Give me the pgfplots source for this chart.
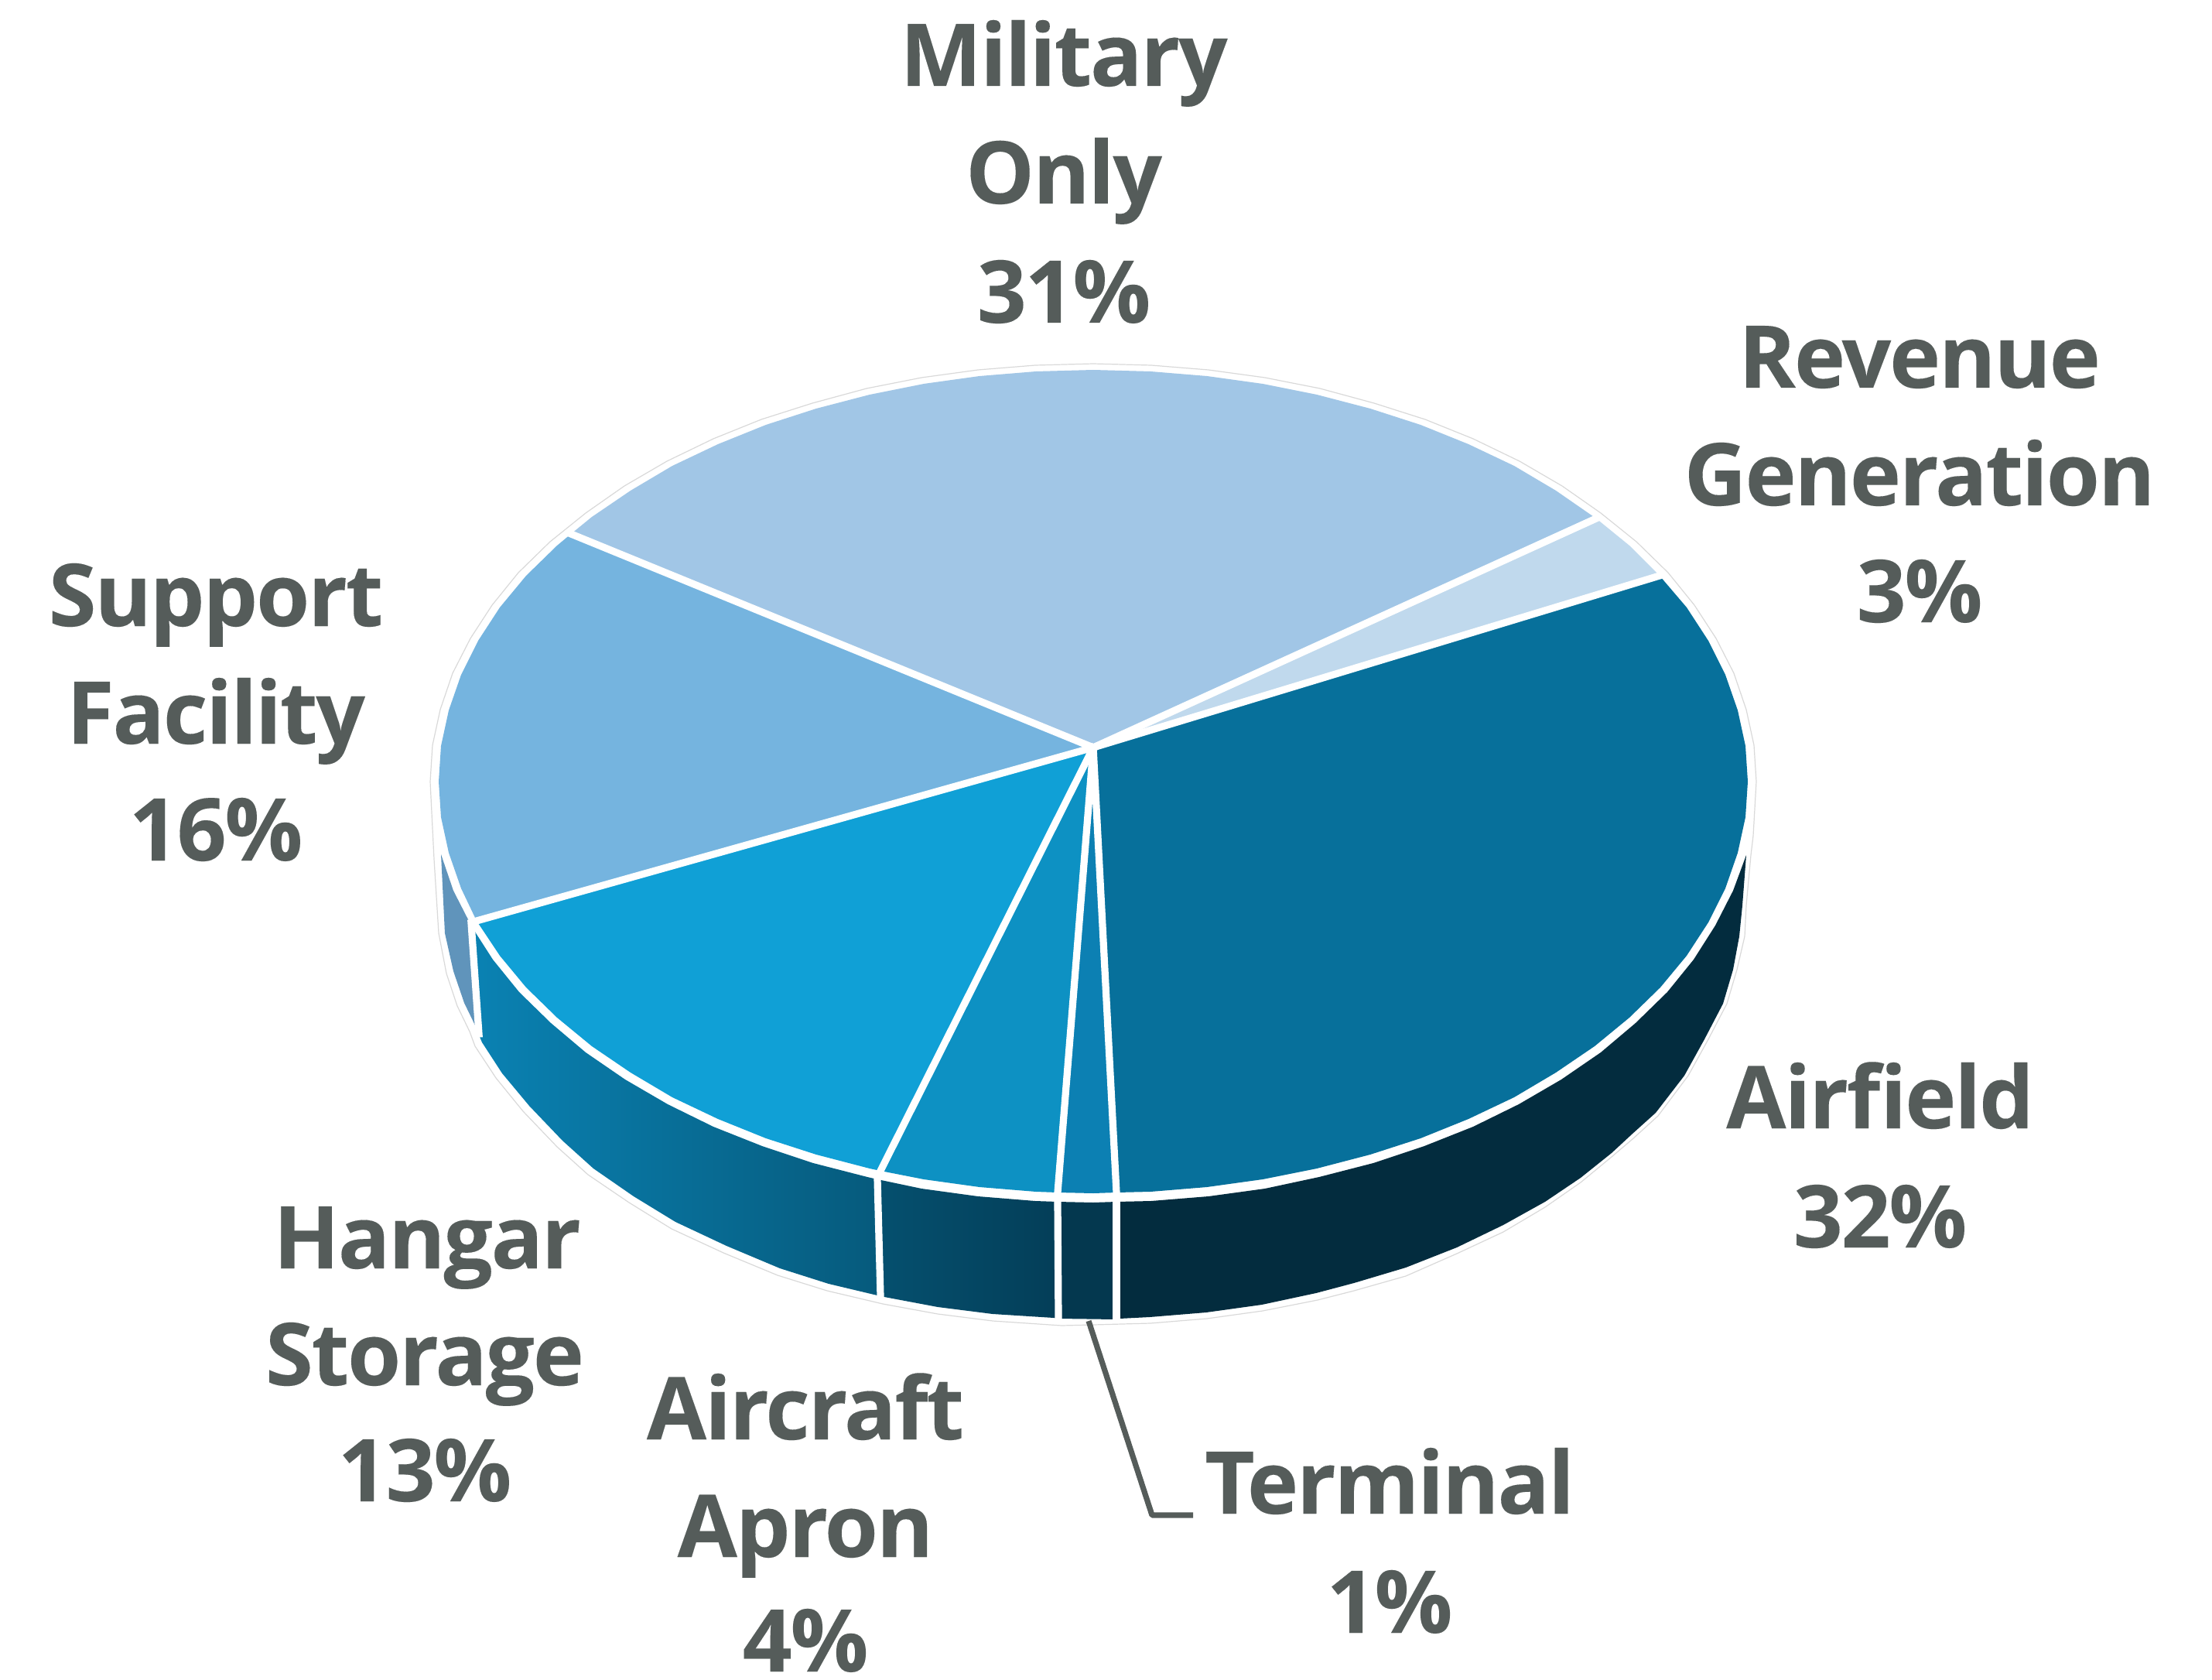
\documentclass[border=0pt]{standalone}
\usepackage{pgfplots}
\pgfplotsset{compat=1.18}
\usepackage{fontspec}
\setmainfont{Open Sans}[BoldFont={Open Sans Bold},BoldFeatures={FakeBold=0.12,LetterSpace=-2.0}]
\definecolor{txt}{HTML}{555C5A}
\definecolor{cMil}{HTML}{A1C6E6}
\definecolor{cRev}{HTML}{C0D9ED}
\definecolor{cSup}{HTML}{75B4DF}
\definecolor{cHan}{HTML}{10A0D6}
\definecolor{cAir}{HTML}{0D91C3}
\definecolor{cTer}{HTML}{0C80B3}
\definecolor{cFie}{HTML}{07709B}
\definecolor{sSup}{HTML}{6094BB}
\definecolor{sHanL}{HTML}{0A82B3}
\definecolor{sHanR}{HTML}{065A7C}
\definecolor{sAirL}{HTML}{05506F}
\definecolor{sAirR}{HTML}{043E58}
\definecolor{sTer}{HTML}{04384F}
\definecolor{sFie}{HTML}{032C3E}
\tikzset{
  divider/.style={draw=white, line width=2.3pt, line cap=rect},
  lbl/.style={font=\fontsize{28}{28}\selectfont\bfseries, text=txt, anchor=base, inner sep=0pt},
}
\begin{document}
\begin{tikzpicture}
\useasboundingbox (0,0) rectangle (714.75pt,542.75pt);
\begin{axis}[
  at={(0,0)}, anchor=south west,
  x=0.25pt, y=0.25pt, y dir=reverse,
  xmin=0, xmax=2859, ymin=0, ymax=2171,
  hide axis, clip=false,
]
% silhouette of the disc
\addplot[fill=white, draw=black!15, line width=0.3pt] coordinates {
(556,1010)(559,963)(569,917)(585,870)(608,825)(636,782)(670,740)(711,700)(757,663)(807,628)(862,596)(922,567)(984,542)(1050,521)(1120,502)(1191,488)(1264,478)(1338,472)(1413,470)
(1488,472)(1562,478)(1635,488)(1706,502)(1776,521)(1842,542)(1904,567)(1964,596)(2019,628)(2069,663)(2115,700)(2156,740)(2190,782)(2218,825)(2241,870)(2257,917)(2267,963)(2270,1010)
(2266,1080)(2263,1105)(2257,1170)(2255,1210)(2245,1253)(2232,1297)(2208,1343)(2182,1390)(2143,1442)(2110,1472)(2083,1495)(2043,1528)(1997,1560)(1943,1592)(1883,1620)(1817,1649)(1750,1668)(1703,1680)(1632,1694)(1560,1704)(1487,1710)(1413,1712)(1372,1713)(1283,1707)(1212,1698)(1141,1685)(1069,1668)(1005,1648)(935,1619)(868,1588)(813,1554)(760,1518)(720,1482)(676,1436)(641,1393)(614,1352)(607,1333)(591,1300)(577,1258)(567,1206)(561,1110)
} -- cycle;
% side walls
\addplot[fill=sSup, draw=none] coordinates {
(570,1104)(586,1151)(609,1196)(619,1336)(615,1327)(600,1296)(586,1255)(575,1206)
} -- cycle;
\addplot[left color=sHanL, right color=sHanR, draw=none] coordinates {
(610,1198)(637,1240)(671,1282)(712,1322)(757,1360)(808,1395)(863,1427)(922,1456)(985,1481)(1051,1503)(1121,1521)(1134,1524)(1138,1675)(1134,1674)(1071,1659)(1008,1639)(939,1610)(873,1579)(819,1546)(767,1510)(727,1474)(684,1429)(649,1387)(623,1347)(620,1340)
} -- cycle;
\addplot[left color=sAirL, right color=sAirR, draw=none] coordinates {
(1134,1524)(1191,1536)(1264,1546)(1338,1552)(1367,1553)(1368,1704)(1362,1703)(1283,1698)(1212,1689)(1143,1676)(1138,1675)
} -- cycle;
\addplot[fill=sTer, draw=none] coordinates {
(1367,1553)(1413,1554)(1443,1553)(1443,1705)(1368,1704)
} -- cycle;
\addplot[fill=sFie, draw=none] coordinates {
(1443,1553)(1488,1552)(1562,1546)(1635,1536)(1705,1521)(1775,1503)(1841,1481)(1904,1456)(1963,1427)(2018,1395)(2069,1360)(2114,1322)(2155,1282)(2189,1240)(2217,1196)(2240,1151)(2257,1105)(2252,1170)(2248,1210)(2240,1253)(2227,1297)(2203,1343)(2177,1390)(2140,1438)(2110,1465)(2083,1490)(2043,1522)(1997,1553)(1943,1583)(1883,1612)(1817,1638)(1750,1658)(1701,1671)(1631,1686)(1559,1696)(1486,1702)(1447,1704)(1443,1705)
} -- cycle;
% top faces
\addplot[fill=cMil, draw=none] coordinates {
(1413,966)(2063,670)(2011,634)(1957,602)(1898,574)(1836,549)(1771,528)(1702,510)(1632,496)(1560,486)(1487,480)(1413,478)(1339,480)(1266,486)(1194,496)(1124,510)(1055,528)(990,549)(928,574)(869,602)(815,634)(765,668)(738,690)
} -- cycle;
\addplot[fill=cRev, draw=none] coordinates {
(1413,966)(2145,744)(2106,705)(2063,670)
} -- cycle;
\addplot[fill=cFie, draw=none] coordinates {
(1413,966)(1443,1541)(1487,1540)(1560,1534)(1632,1524)(1702,1510)(1771,1492)(1836,1471)(1898,1446)(1957,1418)(2011,1386)(2061,1352)(2106,1315)(2146,1276)(2180,1235)(2208,1192)(2230,1148)(2246,1102)(2256,1056)(2259,1010)(2256,964)(2246,918)(2230,872)(2208,828)(2180,785)(2145,744)
} -- cycle;
\addplot[fill=cTer, draw=none] coordinates {
(1413,966)(1367,1541)(1413,1542)(1443,1541)
} -- cycle;
\addplot[fill=cAir, draw=none] coordinates {
(1413,966)(1138,1513)(1194,1524)(1266,1534)(1339,1540)(1367,1541)
} -- cycle;
\addplot[fill=cHan, draw=none] coordinates {
(1413,966)(616,1190)(646,1235)(680,1276)(720,1315)(765,1352)(815,1386)(869,1418)(928,1446)(990,1471)(1055,1492)(1124,1510)(1138,1513)
} -- cycle;
\addplot[fill=cSup, draw=none] coordinates {
(1413,966)(738,690)(720,705)(680,744)(646,785)(618,828)(596,872)(580,918)(570,964)(567,1010)(570,1056)(580,1102)(596,1148)(616,1190)
} -- cycle;
% dividers
\addplot[divider] coordinates {(1413,966)(2063,670)};
\addplot[divider] coordinates {(1413,966)(2145,744)};
\addplot[divider] coordinates {(1413,966)(1443,1541)};
\addplot[divider] coordinates {(1413,966)(1367,1541)};
\addplot[divider] coordinates {(1413,966)(1138,1513)};
\addplot[divider] coordinates {(1413,966)(616,1190)};
\addplot[divider] coordinates {(1413,966)(738,690)};
\addplot[divider] coordinates {(609,1193)(619,1336)};
\addplot[divider] coordinates {(1134,1523)(1138,1675)};
\addplot[divider] coordinates {(1367,1552)(1368,1704)};
\addplot[divider] coordinates {(1443,1553)(1443,1705)};
% leader line
\addplot[draw=txt, line width=1.8pt, line join=bevel] coordinates {(1407,1707)(1489,1958)(1542,1958)};
% labels
\node[lbl] at (axis cs:1375,111) {Military};
\node[lbl] at (axis cs:1375,263) {Only};
\node[lbl] at (axis cs:1375,417) {31\%};
\node[lbl] at (axis cs:2481,501) {Revenue};
\node[lbl] at (axis cs:2481,653) {Generation};
\node[lbl] at (axis cs:2481,804) {3\%};
\node[lbl] at (axis cs:279,809) {Support};
\node[lbl] at (axis cs:279,961) {Facility};
\node[lbl] at (axis cs:279,1112) {16\%};
\node[lbl] at (axis cs:552,1639) {Hangar};
\node[lbl] at (axis cs:549,1790) {Storage};
\node[lbl] at (axis cs:549,1940) {13\%};
\node[lbl] at (axis cs:2430,1458) {Airfield};
\node[lbl] at (axis cs:2430,1612) {32\%};
\node[lbl] at (axis cs:1041,1860) {Aircraft};
\node[lbl] at (axis cs:1041,2012) {Apron};
\node[lbl] at (axis cs:1041,2160) {4\%};
\node[lbl] at (axis cs:1796,1956) {Terminal};
\node[lbl] at (axis cs:1796,2110) {1\%};
\end{axis}
\end{tikzpicture}
\end{document}
